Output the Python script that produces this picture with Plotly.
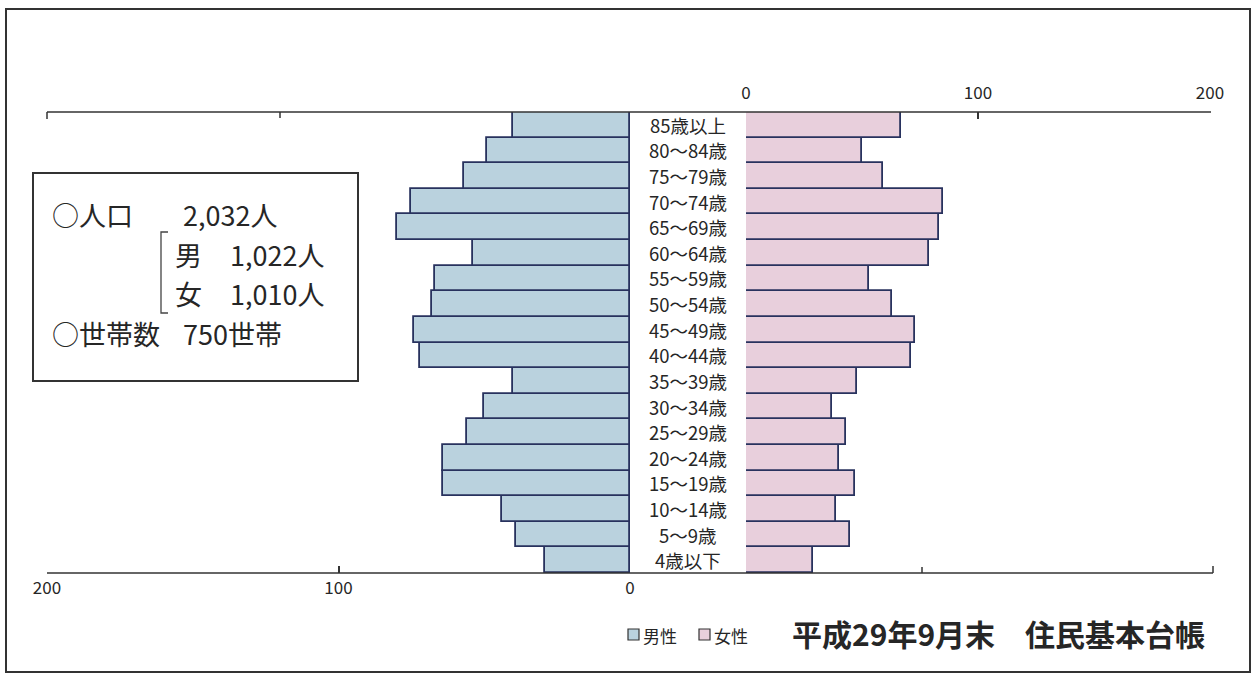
import plotly.graph_objects as go

W, H = 1253, 678

# Age groups, bottom (youngest) to top (oldest)
age_groups = ["4歳以下", "5～9歳", "10～14歳", "15～19歳", "20～24歳", "25～29歳",
              "30～34歳", "35～39歳", "40～44歳", "45～49歳", "50～54歳", "55～59歳",
              "60～64歳", "65～69歳", "70～74歳", "75～79歳", "80～84歳", "85歳以上"]
male = [29, 39, 44, 64, 64, 56, 50, 40, 72, 74, 68, 67, 54, 80, 75, 57, 49, 40]
female = [29, 45, 39, 47, 40, 43, 37, 48, 71, 73, 63, 53, 79, 83, 85, 59, 50, 67]
series_names = ["男性", "女性"]
axis_ticks = [0, 100, 200]
axis_tick_labels = ["0", "100", "200"]

summary_lines = [
    ("○人口", "2,032人"),
    ("男", "1,022人"),
    ("女", "1,010人"),
    ("○世帯数", "750世帯"),
]
source_text = "平成29年9月末　住民基本台帳"

MALE_FILL = "#bad2de"
FEMALE_FILL = "#e8cfdc"
EDGE = "#28325e"
INK = "#262626"
FONT = "Noto Sans CJK JP"


def px(x):
    return x / W


def py(y):
    return 1 - y / H


y_top, y_bot = 112, 573

fig = go.Figure()
fig.add_trace(go.Bar(
    y=age_groups, x=male, orientation="h", name=series_names[0],
    xaxis="x", yaxis="y",
    marker=dict(color=MALE_FILL, line=dict(color=EDGE, width=1.8)),
    hoverinfo="x+y",
))
fig.add_trace(go.Bar(
    y=age_groups, x=female, orientation="h", name=series_names[1],
    xaxis="x2", yaxis="y",
    marker=dict(color=FEMALE_FILL, line=dict(color=EDGE, width=1.8)),
    hoverinfo="x+y",
))

annotations = []
# age labels in the centre column
for g in age_groups:
    annotations.append(dict(
        x=px(688), xref="paper", y=g, yref="y", text=g, showarrow=False,
        xanchor="center", yanchor="middle",
        font=dict(family=FONT, size=18.5, color=INK),
    ))

# summary box text
rows_y = [214, 254, 293, 333]
label_x = [50, 173, 173, 50]
value_x = [181, 228, 228, 181]
for (lab, val), yy, lx, vx in zip(summary_lines, rows_y, label_x, value_x):
    annotations.append(dict(x=px(lx), y=py(yy), xref="paper", yref="paper", text=lab,
                            showarrow=False, xanchor="left", yanchor="middle",
                            font=dict(family=FONT, size=27, color=INK)))
    annotations.append(dict(x=px(vx), y=py(yy), xref="paper", yref="paper", text=val,
                            showarrow=False, xanchor="left", yanchor="middle",
                            font=dict(family=FONT, size=27, color=INK)))

# source / date title
annotations.append(dict(x=px(1207), y=py(633), xref="paper", yref="paper",
                        text="<b>" + source_text + "</b>", showarrow=False,
                        xanchor="right", yanchor="middle",
                        font=dict(family=FONT, size=30, color=INK)))

# manual legend (key squares + names)
legend_x = [628, 699]
legend_fill = [MALE_FILL, FEMALE_FILL]
shapes = []
for name, lx, fc in zip(series_names, legend_x, legend_fill):
    shapes.append(dict(type="rect", xref="paper", yref="paper",
                       x0=px(lx), x1=px(lx + 11), y0=py(640), y1=py(629),
                       fillcolor=fc, line=dict(color="#333333", width=1.2)))
    annotations.append(dict(x=px(lx + 13), y=py(635), xref="paper", yref="paper", text=name,
                            showarrow=False, xanchor="left", yanchor="middle",
                            font=dict(family=FONT, size=17, color=INK)))

shapes += [
    # outer frame
    dict(type="rect", xref="paper", yref="paper", x0=px(6), x1=px(1250), y0=py(9), y1=py(672),
         line=dict(color="#333333", width=2)),
    # summary box
    dict(type="rect", xref="paper", yref="paper", x0=px(33), x1=px(358), y0=py(173), y1=py(381),
         line=dict(color="#333333", width=2)),
    # bracket
    dict(type="path", xref="paper", yref="paper",
         path=f"M {px(168)} {py(232)} L {px(161)} {py(232)} L {px(161)} {py(313)} L {px(168)} {py(313)}",
         line=dict(color="#444444", width=1.3)),
    # full-width top and bottom axis lines
    dict(type="line", xref="paper", yref="paper", x0=px(47), x1=px(1211), y0=py(y_top), y1=py(y_top),
         line=dict(color="#333333", width=1.6)),
    dict(type="line", xref="paper", yref="paper", x0=px(47), x1=px(1213), y0=py(y_bot), y1=py(y_bot),
         line=dict(color="#333333", width=1.6)),
    # extra ticks on the frame lines
    dict(type="line", xref="paper", yref="paper", x0=px(47), x1=px(47), y0=py(y_top), y1=py(y_top + 7),
         line=dict(color="#333333", width=1.5)),
    dict(type="line", xref="paper", yref="paper", x0=px(280), x1=px(280), y0=py(y_top), y1=py(y_top + 6),
         line=dict(color="#333333", width=1.5)),
    dict(type="line", xref="paper", yref="paper", x0=px(922), x1=px(922), y0=py(y_bot), y1=py(y_bot - 6),
         line=dict(color="#333333", width=1.5)),
    dict(type="line", xref="paper", yref="paper", x0=px(1213), x1=px(1213), y0=py(y_bot), y1=py(y_bot - 7),
         line=dict(color="#333333", width=1.5)),
]

axis_common = dict(tickvals=axis_ticks, ticktext=axis_tick_labels, ticks="inside", ticklen=7,
                   tickcolor="#333333", tickwidth=1.5, showline=False, showgrid=False,
                   zeroline=False, automargin=False, fixedrange=True,
                   tickfont=dict(family=FONT, size=17, color=INK))

fig.update_layout(
    width=W, height=H,
    margin=dict(l=0, r=0, t=0, b=0, pad=0, autoexpand=False),
    paper_bgcolor="white", plot_bgcolor="rgba(0,0,0,0)",
    bargap=0,
    font=dict(family=FONT, color=INK),
    xaxis=dict(domain=[px(47), px(630)], range=[200, 0], anchor="y", side="bottom",
               ticklabelstandoff=3, **axis_common),
    xaxis2=dict(domain=[px(746), px(1210)], range=[0, 200], anchor="y", side="top",
                ticklabelstandoff=9, **axis_common),
    yaxis=dict(domain=[py(y_bot), py(y_top)], range=[-0.5, len(age_groups) - 0.5],
               categoryorder="array", categoryarray=age_groups, automargin=False,
               showticklabels=False, ticks="", showgrid=False, zeroline=False, showline=False,
               fixedrange=True),
    showlegend=False,
    annotations=annotations,
    shapes=shapes,
)

fig.write_html("out.html")
